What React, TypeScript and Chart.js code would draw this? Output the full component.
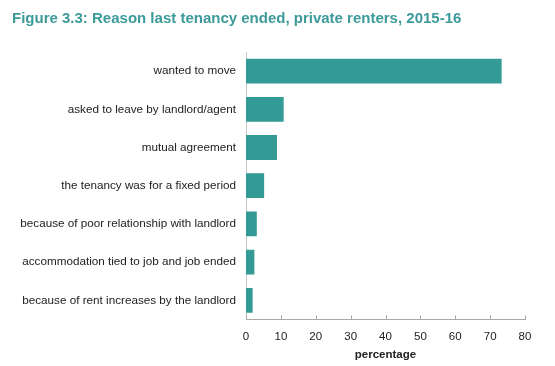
import React, { useEffect, useRef } from "react";
import { Chart, registerables } from "chart.js";

Chart.register(...registerables);

const categories = [
  "wanted to move",
  "asked to leave by landlord/agent",
  "mutual agreement",
  "the tenancy was for a fixed period",
  "because of poor relationship with landlord",
  "accommodation tied to job and job ended",
  "because of rent increases by the landlord",
];
const percentages = [73.3, 10.8, 8.9, 5.2, 3.1, 2.4, 1.9];
const xTicks = [0, 10, 20, 30, 40, 50, 60, 70, 80];

const FONT = "'Liberation Sans', Arial, sans-serif";

const innerTicks = {
  id: "innerTicks",
  afterDraw(chart: any) {
    const x = chart.scales.x;
    const ctx = chart.ctx;
    ctx.save();
    ctx.strokeStyle = "#a8a8a8";
    ctx.lineWidth = 1;
    const yb = chart.chartArea.bottom;
    xTicks.forEach((v) => {
      const px = Math.round(x.getPixelForValue(v)) + 0.5;
      ctx.beginPath();
      ctx.moveTo(px, yb);
      ctx.lineTo(px, yb - 4);
      ctx.stroke();
    });
    ctx.restore();
  },
};

export default function App() {
  const ref = useRef<HTMLCanvasElement>(null);
  useEffect(() => {
    document.body.style.margin = "0";
    const chart = new Chart(ref.current!, {
      type: "bar",
      data: {
        labels: categories,
        datasets: [
          {
            data: percentages,
            backgroundColor: "#339a96",
            borderWidth: 0,
            categoryPercentage: 0.65,
            barPercentage: 1,
          },
        ],
      },
      plugins: [innerTicks],
      options: {
        indexAxis: "y",
        animation: false,
        responsive: false,
        layout: { padding: { left: 12, right: 30, top: 0, bottom: 0 } },
        plugins: {
          legend: { display: false },
          tooltip: { enabled: false },
          title: {
            display: true,
            text: "Figure 3.3: Reason last tenancy ended, private renters, 2015-16",
            align: "start",
            color: "#3d9a9a",
            font: { family: FONT, size: 15, weight: "bold" },
            padding: { top: 10, bottom: 24 },
          },
        },
        scales: {
          x: {
            min: 0,
            max: 80,
            afterBuildTicks: (s: any) => {
              s.ticks = xTicks.map((v) => ({ value: v }));
            },
            grid: { display: false, drawTicks: false },
            border: { display: true, color: "#a8a8a8", width: 1 },
            ticks: {
              color: "#222",
              font: { family: FONT, size: 11.5 },
              padding: 11,
            },
            title: {
              display: true,
              text: "percentage",
              color: "#222",
              font: { family: FONT, size: 11.5, weight: "bold" },
              padding: { top: -7, bottom: 4 },
            },
          },
          y: {
            afterFit: (s: any) => {
              s.width = 234;
            },
            grid: { display: false, drawTicks: false },
            border: { display: true, color: "#c4c4c4", width: 1 },
            ticks: {
              color: "#222",
              font: { family: FONT, size: 11.7 },
              padding: 10,
            },
          },
        },
      },
    });
    return () => chart.destroy();
  }, []);
  return (
    <div style={{ position: "absolute", left: 0, top: 0, width: 555, height: 366 }}>
      <canvas ref={ref} width={555} height={366} style={{ width: 555, height: 366 }} />
    </div>
  );
}
